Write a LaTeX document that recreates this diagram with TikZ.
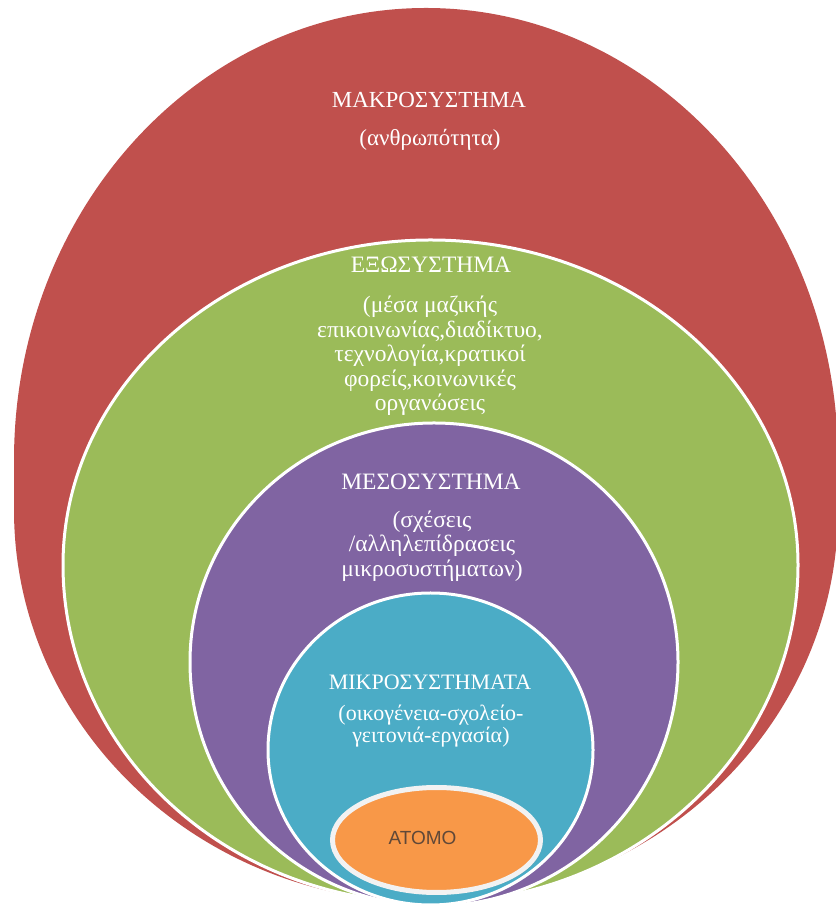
\documentclass[tikz,border=0pt]{standalone}
\usepackage{fontspec}
\setmainfont{Liberation Serif}
\newfontfamily\atomfont{Liberation Sans}
\usepackage{tikz}
\usetikzlibrary{calc}
\usetikzlibrary{positioning}
\usetikzlibrary{shapes.geometric}
\usetikzlibrary{shadows}
\definecolor{macroRed}{RGB}{192,80,77}
\definecolor{exoGreen}{RGB}{155,187,89}
\definecolor{mesoPurple}{RGB}{128,100,162}
\definecolor{microBlue}{RGB}{75,172,198}
\definecolor{atomOrange}{RGB}{248,152,72}
\definecolor{atomText}{RGB}{96,72,56}
\tikzstyle{layer} = [draw=white, line width=3pt]
\tikzstyle{sysname} = [text=white, align=center, inner sep=0pt, font=\fontsize{23.5}{24}\selectfont]
\tikzstyle{sysnote} = [text=white, align=center, inner sep=0pt, font=\fontsize{23.5}{24.5}\selectfont]
\tikzstyle{atomnode} = [draw=white!95!black, fill=atomOrange, ellipse, line width=5pt, minimum width=208pt, minimum height=105pt, drop shadow={shadow xshift=2pt, shadow yshift=-2pt, opacity=.35}]

\begin{document}
\begin{tikzpicture}[x=1pt, y=1pt]
    \useasboundingbox (0,0) rectangle (835,909);
    % nested systems, bottom aligned
    \fill[macroRed] (14,449) arc[start angle=180, end angle=0, x radius=412pt, y radius=452pt] -- (838,399)
        arc[start angle=0, end angle=-180, x radius=412pt, y radius=392pt] -- cycle;
    \filldraw[layer, fill=exoGreen] (63,344) arc[start angle=180, end angle=0, x radius=367.5pt, y radius=325pt]
        arc[start angle=0, end angle=-180, x radius=367.5pt, y radius=338pt] -- cycle;
    \filldraw[layer, fill=mesoPurple] (190,247) arc[start angle=180, end angle=0, x radius=244pt, y radius=239pt]
        arc[start angle=0, end angle=-180, x radius=244pt, y radius=244pt] -- cycle;
    \filldraw[layer, fill=microBlue] (268,159) arc[start angle=180, end angle=0, x radius=162.5pt, y radius=157pt]
        arc[start angle=0, end angle=-180, x radius=162.5pt, y radius=155pt] -- cycle;
    \node[atomnode] (atom) at (436.5,69) {};
    \node[font=\atomfont\fontsize{19}{20}\selectfont, text=atomText] (atom_name) at ($(atom)+(-14,2)$) {ΑΤΟΜΟ};

    \node[sysname, font=\fontsize{23}{24}\selectfont] (macro_name) at (429,809) {ΜΑΚΡΟΣΥΣΤΗΜΑ};
    \node[sysnote, font=\fontsize{23}{24}\selectfont] (macro_note) at ($(macro_name)+(1,-40)$) {(ανθρωπότητα)};
    \node[sysname] (exo_name) at (431,644) {ΕΞΩΣΥΣΤΗΜΑ};
    \node[sysnote] (exo_note) at ($(exo_name)+(-1,-91)$) {(μέσα μαζικής\\ επικοινωνίας,διαδίκτυο,\\ τεχνολογία,κρατικοί\\ φορείς,κοινωνικές\\ οργανώσεις};
    \node[sysname] (meso_name) at (431,427) {ΜΕΣΟΣΥΣΤΗΜΑ};
    \node[sysnote] (meso_note) at ($(meso_name)+(1,-64)$) {(σχέσεις\\ /αλληλεπίδρασεις\\ μικροσυστήματων)};
    \node[sysname, font=\fontsize{22}{24}\selectfont] (micro_name) at (430,227) {ΜΙΚΡΟΣΥΣΤΗΜΑΤΑ};
    \node[sysnote, font=\fontsize{22}{22}\selectfont] (micro_note) at ($(micro_name)+(1,-44)$) {(οικογένεια-σχολείο-\\ γειτονιά-εργασία)};
\end{tikzpicture}
\end{document}
